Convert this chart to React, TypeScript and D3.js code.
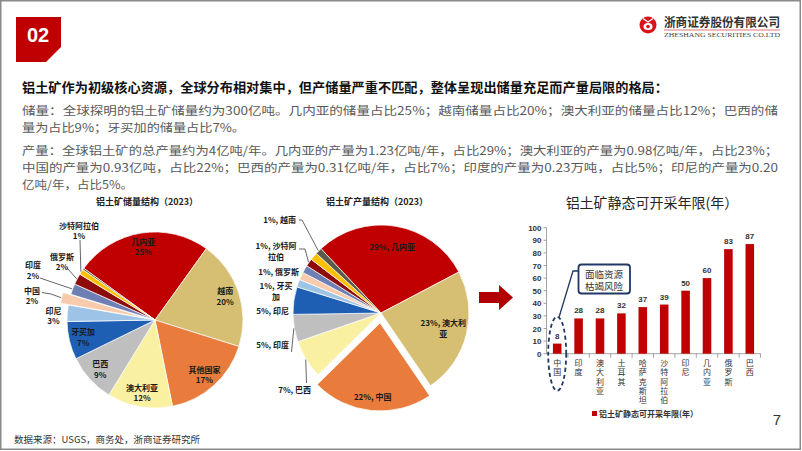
import React from "react";
import * as d3 from "d3";

const W = 802;
const H = 451;

// ---------- text ----------
const headline = "铝土矿作为初级核心资源，全球分布相对集中，但产储量严重不匹配，整体呈现出储量充足而产量局限的格局：";
const bodyLines = [
  "储量：全球探明的铝土矿储量约为300亿吨。几内亚的储量占比25%；越南储量占比20%；澳大利亚的储量占比12%；巴西的储",
  "量为占比9%；牙买加的储量占比7%。",
  "产量：全球铝土矿的总产量约为4亿吨/年。几内亚的产量为1.23亿吨/年，占比29%；澳大利亚的产量为0.98亿吨/年，占比23%；",
  "中国的产量为0.93亿吨，占比22%；巴西的产量为0.31亿吨/年，占比7%；印度的产量为0.23万吨，占比5%；印尼的产量为0.20",
  "亿吨/年，占比5%。",
];
const footerText = "数据来源：USGS，商务处，浙商证券研究所";

// ---------- data ----------
const reserveTitle = "铝土矿储量结构（2023）";
const reserveNames = ["几内亚", "越南", "其他国家", "澳大利亚", "巴西", "牙买加", "印尼", "中国", "印度", "俄罗斯", "沙特阿拉伯", ""];
const reserveValues = [25, 20, 17, 12, 9, 7, 3, 2, 2, 2, 1, 0.3];

const productionTitle = "铝土矿产量结构（2023）";
const productionNames = ["几内亚", "澳大利亚", "中国", "巴西", "印度", "印尼", "牙买加", "", "俄罗斯", "沙特阿拉伯", "", "越南"];
const productionValues = [29, 23, 22, 7, 5, 5, 1.4, 1.4, 1.4, 1.4, 1.4, 1.2];

const barTitle = "铝土矿静态可开采年限(年）";
const barCategories = ["中国", "印度", "澳大利亚", "土耳其", "哈萨克斯坦", "沙特阿拉伯", "印尼", "几内亚", "俄罗斯", "巴西"];
const barValues = [8, 28, 28, 32, 37, 39, 50, 60, 83, 87];
const yTicks = [0, 10, 20, 30, 40, 50, 60, 70, 80, 90, 100];

const palette = [
  "#C00000", "#D6BE72", "#E97B3C", "#FAF0A2", "#BFBFBF", "#1F5FB3",
  "#9DC3E6", "#F8CBAD", "#6E7FB4", "#8E0B0B", "#FFC000", "#5B5B4C",
];

const CJK = "'Noto Sans CJK SC', 'Noto Sans', sans-serif";
const LAT = "'Liberation Sans', Arial, sans-serif";
const rad = (d: number) => (d * Math.PI) / 180;

type LabelCfg =
  | { mode: "in"; f: number; lines: string[] }
  | { mode: "out"; dx: number; dy: number; anchor: "start" | "middle" | "end"; lines: string[]; leader?: [number, number][] }
  | { mode: "none" };

function PieChart(props: {
  cx: number; cy: number; r: number; values: number[]; startDeg: number;
  explodeIdx: number; explode: number; labels: LabelCfg[]; lineH: number;
}) {
  const { cx, cy, r, values, startDeg, explodeIdx, explode, labels, lineH } = props;
  const pie = d3.pie<number>().sort(null).startAngle(rad(startDeg)).endAngle(rad(startDeg + 360));
  const arcs = pie(values);
  const arc = d3.arc<d3.PieArcDatum<number>>().innerRadius(0).outerRadius(r);
  return (
    <g>
      {arcs.map((a, i) => {
        const mid = (a.startAngle + a.endAngle) / 2;
        const e = i === explodeIdx ? explode : 0;
        const ox = Math.sin(mid) * e;
        const oy = -Math.cos(mid) * e;
        return (
          <path key={i} d={arc(a) || ""} transform={`translate(${cx + ox},${cy + oy})`}
            fill={palette[i % palette.length]} stroke="#fff" strokeWidth={0.7} />
        );
      })}
      {arcs.map((a, i) => {
        const cfg = labels[i];
        if (!cfg || cfg.mode === "none") return null;
        const mid = (a.startAngle + a.endAngle) / 2;
        const e = i === explodeIdx ? explode : 0;
        const ox = cx + Math.sin(mid) * e;
        const oy = cy - Math.cos(mid) * e;
        if (cfg.mode === "in") {
          const lx = ox + Math.sin(mid) * r * cfg.f;
          const ly = oy - Math.cos(mid) * r * cfg.f;
          const n = cfg.lines.length;
          return (
            <text key={"l" + i} x={lx} textAnchor="middle" fontFamily={CJK} fontSize={8} fontWeight="bold" fill="#1a1a1a">
              {cfg.lines.map((t, k) => (
                <tspan key={k} x={lx} y={ly + (k - (n - 1) / 2) * lineH + 3}>{t}</tspan>
              ))}
            </text>
          );
        }
        const lx = cx + cfg.dx;
        const ly = cy + cfg.dy;
        const n = cfg.lines.length;
        const ex = ox + Math.sin(mid) * (r + 0.5);
        const ey = oy - Math.cos(mid) * (r + 0.5);
        const pts = cfg.leader ? [...cfg.leader.map(([x, y]) => [cx + x, cy + y]), [ex, ey]] : null;
        return (
          <g key={"l" + i}>
            {pts && (
              <polyline points={pts.map((p) => p.join(",")).join(" ")} fill="none" stroke="#404040" strokeWidth={0.8} />
            )}
            <text x={lx} textAnchor={cfg.anchor} fontFamily={CJK} fontSize={8} fontWeight="bold" fill="#1a1a1a">
              {cfg.lines.map((t, k) => (
                <tspan key={k} x={lx} y={ly + (k - (n - 1) / 2) * lineH + 3}>{t}</tspan>
              ))}
            </text>
          </g>
        );
      })}
    </g>
  );
}

function pct(v: number) {
  return d3.format(".0f")(v) + "%";
}

function BarChart() {
  const x = d3.scaleBand<string>().domain(barCategories).range([546.5, 760.5]).paddingInner(0.6).paddingOuter(0.3);
  const y = d3.scaleLinear().domain([0, 100]).range([353.7, 227.7]);
  const step = x.step();
  const bw = x.bandwidth();
  const x0 = 546.5;
  const chinaX = (x("中国") || 0) + bw / 2;
  return (
    <g>
      <text x={652} y={208} textAnchor="middle" fontFamily={CJK} fontSize={14} fill="#262626">{barTitle}</text>
      {/* y axis */}
      <line x1={x0} x2={x0} y1={y(100)} y2={y(0)} stroke="#8c8c8c" strokeWidth={0.8} />
      {yTicks.map((t) => (
        <g key={t}>
          <line x1={x0 - 3} x2={x0} y1={y(t)} y2={y(t)} stroke="#8c8c8c" strokeWidth={0.8} />
          <text x={x0 - 5} y={y(t) + 3} textAnchor="end" fontFamily={LAT} fontSize={8} fontWeight="bold" fill="#333">{t}</text>
        </g>
      ))}
      {/* x axis */}
      <line x1={x0} x2={760.5} y1={y(0)} y2={y(0)} stroke="#8c8c8c" strokeWidth={0.8} />
      {barCategories.map((c, i) => (
        <line key={c} x1={x0 + (i + 1) * step} x2={x0 + (i + 1) * step} y1={y(0)} y2={y(0) + 4} stroke="#8c8c8c" strokeWidth={0.8} />
      ))}
      {barCategories.map((c, i) => {
        const bx = x(c) || 0;
        return (
          <g key={c}>
            <rect x={bx} y={y(barValues[i])} width={bw} height={y(0) - y(barValues[i])} fill="#C00000" />
            <text x={bx + bw / 2} y={y(barValues[i]) - 5} textAnchor="middle" fontFamily={LAT} fontSize={8} fontWeight="bold" fill="#333">{barValues[i]}</text>
            {c.split("").map((ch, k) => (
              <text key={k} x={bx + bw / 2} y={y(0) + 12 + k * 9.4} textAnchor="middle" fontFamily={CJK} fontSize={8} fill="#333">{ch}</text>
            ))}
          </g>
        );
      })}
      {/* annotation */}
      <ellipse cx={chinaX} cy={y(0)} rx={9} ry={37} fill="none" stroke="#1F3864" strokeWidth={1.8} strokeDasharray="4,3" />
      <rect x={578.5} y={264.5} width={51.5} height={29} rx={3} fill="#fff" stroke="#1F3864" strokeWidth={1.8} />
      <polyline points={`578.5,271 573,271 ${chinaX + 2},${y(0) - 37}`} fill="none" stroke="#1F3864" strokeWidth={1.3} />
      <text x={604} y={277.5} textAnchor="middle" fontFamily={CJK} fontSize={9.5} fill="#333">面临资源</text>
      <text x={604} y={290} textAnchor="middle" fontFamily={CJK} fontSize={9.5} fill="#333">枯竭风险</text>
      {/* legend */}
      <rect x={592} y={411} width={5} height={5} fill="#C00000" />
      <text x={599} y={416.5} fontFamily={CJK} fontSize={8} fontWeight="bold" fill="#333">{barTitle}</text>
    </g>
  );
}

export default function App() {
  const leftLabels: LabelCfg[] = reserveNames.map((n, i) => {
    const v = reserveValues[i];
    if (!n) return { mode: "none" };
    const lines = [n, pct(v)];
    if (i <= 5) return { mode: "in", f: 0.84, lines };
    if (n === "印尼") return { mode: "out", dx: -101.5, dy: -4, anchor: "middle", lines };
    if (n === "中国") return { mode: "out", dx: -123, dy: -24, anchor: "middle", lines, leader: [[-113, -27.5], [-104, -26]] };
    if (n === "印度") return { mode: "out", dx: -122, dy: -49.5, anchor: "middle", lines, leader: [[-115, -42]] };
    if (n === "俄罗斯") return { mode: "out", dx: -93, dy: -58, anchor: "middle", lines, leader: [[-88, -52]] };
    return { mode: "out", dx: -76, dy: -89, anchor: "middle", lines, leader: [[-75, -80]] };
  });

  const rightLabels: LabelCfg[] = productionNames.map((n, i) => {
    const v = productionValues[i];
    if (!n) return { mode: "none" };
    const full = `${pct(v)}, ${n}`;
    if (n === "几内亚") return { mode: "in", f: 0.76, lines: [full] };
    if (n === "澳大利亚") return { mode: "in", f: 0.73, lines: [full.slice(0, -1), full.slice(-1)] };
    if (n === "中国") return { mode: "in", f: 0.85, lines: [full] };
    if (n === "巴西") return { mode: "out", dx: -70, dy: 77, anchor: "end", lines: [full], leader: [[-74.5, 70]] };
    if (n === "印度") return { mode: "out", dx: -92, dy: 32, anchor: "end", lines: [full], leader: [[-89.5, 39]] };
    if (n === "印尼") return { mode: "out", dx: -92, dy: -2, anchor: "end", lines: [full] };
    if (n === "牙买加") return { mode: "out", dx: -105, dy: -22, anchor: "middle", lines: [full.slice(0, -1), full.slice(-1)] };
    if (n === "俄罗斯") return { mode: "out", dx: -82, dy: -41, anchor: "end", lines: [full] };
    if (n === "沙特阿拉伯") return { mode: "out", dx: -105, dy: -62, anchor: "middle", lines: [full.slice(0, -2), full.slice(-2)], leader: [[-82, -64], [-76, -64]] };
    return { mode: "out", dx: -85, dy: -93, anchor: "end", lines: [full], leader: [[-82, -93], [-79, -93]] };
  });

  const lineYs = [114.5, 131.5, 154.5, 171.5, 188.5];
  const lineLens = [756, 223, 756, 756, 111];

  return (
    <div style={{ position: "fixed", left: 0, top: 0, width: W, height: H, background: "#fff" }}>
      <svg width={W} height={H} viewBox={`0 0 ${W} ${H}`} style={{ display: "block" }}>
        <rect x={0} y={0} width={W} height={H} fill="#fff" />
        <rect x={0.75} y={0.75} width={799.5} height={448.5} fill="none" stroke="#8a8a8a" strokeWidth={1.5} />

        {/* badge */}
        <path d="M16,17 H61 V47 L46,62 H16 Z" fill="#C00000" />
        <text x={38} y={41.5} textAnchor="middle" fontFamily={LAT} fontSize={20} fontWeight="bold" fill="#fff">02</text>

        {/* logo */}
        <circle cx={648} cy={25} r={8.5} fill="#D7141A" />
        <ellipse cx={648} cy={26.5} rx={4.5} ry={3.6} fill="#fff" />
        <circle cx={648} cy={26.5} r={1.8} fill="#D7141A" />
        <path d="M643,18.5 L648,22 L653,18.5" fill="none" stroke="#fff" strokeWidth={1.3} />
        <text x={664} y={26.5} fontFamily={CJK} fontSize={12.5} fontWeight="bold" fill="#333" textLength={116} lengthAdjust="spacingAndGlyphs">浙商证券股份有限公司</text>
        <line x1={664} x2={780} y1={30} y2={30} stroke="#D7141A" strokeWidth={0.6} />
        <text x={664} y={37} fontFamily="'Liberation Serif', serif" fontSize={6.5} fill="#444" textLength={116} lengthAdjust="spacingAndGlyphs">ZHESHANG SECURITIES CO.LTD</text>

        {/* text block */}
        <text x={22} y={92} fontFamily={CJK} fontSize={13} fontWeight="bold" fill="#111" textLength={646} lengthAdjust="spacingAndGlyphs">{headline}</text>
        {bodyLines.map((t, i) => (
          <text key={i} x={22} y={lineYs[i]} fontFamily={CJK} fontSize={11.7} fill="#595959" textLength={lineLens[i]} lengthAdjust="spacingAndGlyphs">{t}</text>
        ))}

        {/* pies */}
        <text x={147} y={205} textAnchor="middle" fontFamily={CJK} fontSize={9} fontWeight="bold" fill="#222">{reserveTitle}</text>
        <PieChart cx={155} cy={320} r={88} values={reserveValues} startDeg={-54} explodeIdx={7} explode={8} labels={leftLabels} lineH={10.5} />

        <text x={377} y={205} textAnchor="middle" fontFamily={CJK} fontSize={9} fontWeight="bold" fill="#222">{productionTitle}</text>
        <PieChart cx={381} cy={313} r={88} values={productionValues} startDeg={-43} explodeIdx={2} explode={10} labels={rightLabels} lineH={11} />

        {/* arrow */}
        <path d="M479,292 H499 V285 L513,297.5 L499,310 V303 H479 Z" fill="#B00000" />

        <BarChart />

        <text x={777} y={425} textAnchor="middle" fontFamily={LAT} fontSize={15} fill="#333">7</text>
        <text x={14} y={443} fontFamily={CJK} fontSize={9.5} fill="#333">{footerText}</text>
      </svg>
    </div>
  );
}
